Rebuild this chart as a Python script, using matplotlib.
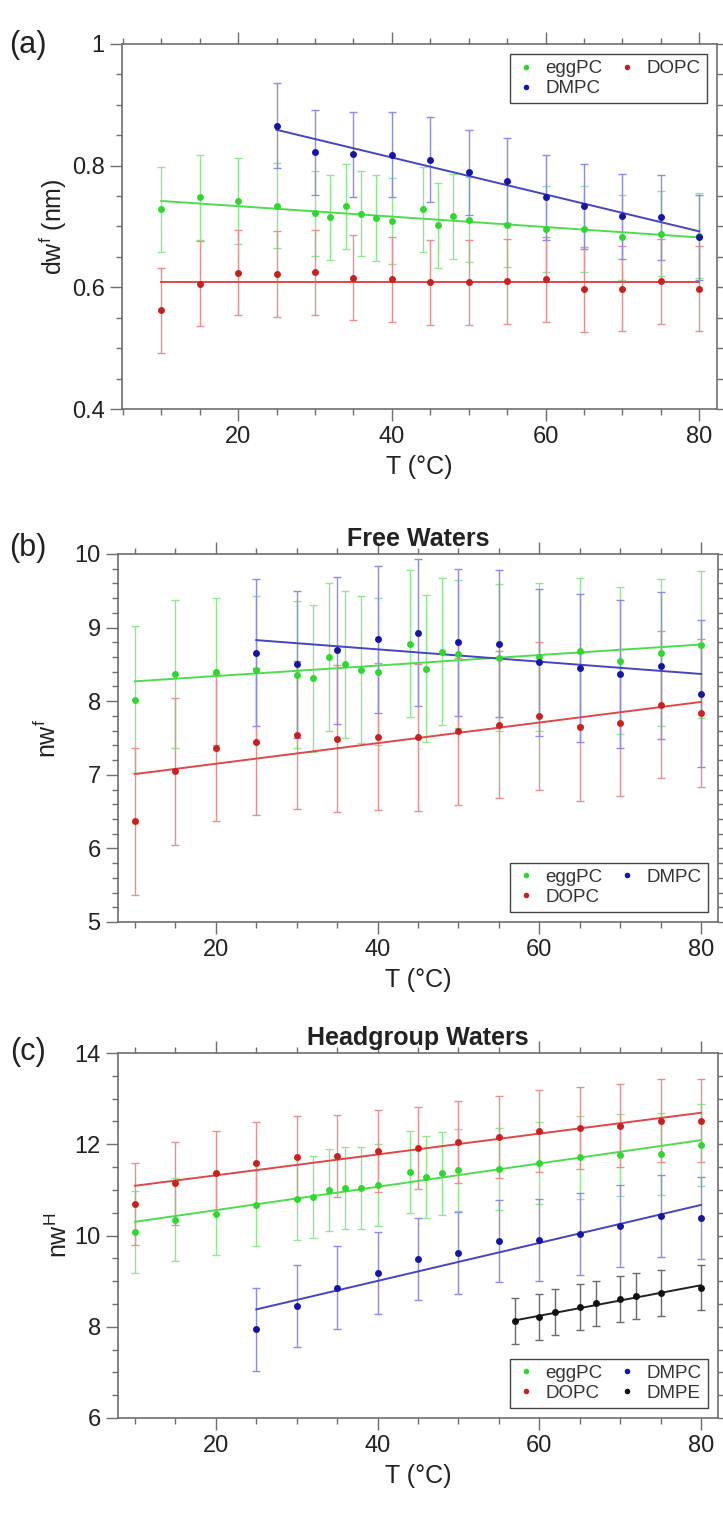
import matplotlib
matplotlib.use("Agg")
import matplotlib.pyplot as plt
from matplotlib.ticker import MultipleLocator, FuncFormatter

plt.rcParams['font.family'] = ['Liberation Sans', 'DejaVu Sans']
plt.rcParams['mathtext.fontset'] = 'custom'
plt.rcParams['mathtext.rm'] = 'Liberation Sans'

# ---------------- data ----------------
T_egg = [10, 15, 20, 25, 30, 32, 34, 36, 38, 40, 44, 46, 48, 50, 55, 60, 65, 70, 75, 80]
T_dopc = [10, 15, 20, 25, 30, 35, 40, 45, 50, 55, 60, 65, 70, 75, 80]
T_dmpc = [25, 30, 35, 40, 45, 50, 55, 60, 65, 70, 75, 80]
T_dmpe = [57, 60, 62, 65, 67, 70, 72, 75, 80]

# (a) dw^f (nm)
a_egg = [0.728, 0.748, 0.742, 0.734, 0.722, 0.715, 0.733, 0.721, 0.714, 0.709,
         0.728, 0.702, 0.717, 0.711, 0.703, 0.696, 0.696, 0.682, 0.688, 0.685]
a_dopc = [0.562, 0.606, 0.624, 0.622, 0.625, 0.616, 0.613, 0.608, 0.608, 0.610,
          0.613, 0.597, 0.598, 0.610, 0.598]
a_dmpc = [0.866, 0.822, 0.819, 0.818, 0.810, 0.789, 0.775, 0.748, 0.733, 0.717, 0.715, 0.682]
a_err = {'eggPC': 0.07, 'DOPC': 0.07, 'DMPC': 0.07}
a_fit = {'eggPC': ([10, 80], [0.742, 0.682]),
         'DOPC': ([10, 80], [0.609, 0.609]),
         'DMPC': ([25, 80], [0.859, 0.692])}

# (b) nw^f
b_egg = [8.02, 8.37, 8.40, 8.43, 8.36, 8.31, 8.60, 8.50, 8.43, 8.40,
         8.78, 8.44, 8.67, 8.64, 8.59, 8.60, 8.68, 8.55, 8.66, 8.77]
b_dopc = [6.37, 7.05, 7.37, 7.45, 7.54, 7.49, 7.52, 7.51, 7.59, 7.68,
          7.80, 7.65, 7.71, 7.95, 7.84]
b_dmpc = [8.66, 8.50, 8.69, 8.84, 8.93, 8.80, 8.78, 8.53, 8.45, 8.37, 8.48, 8.10]
b_err = {'eggPC': 1.0, 'DOPC': 1.0, 'DMPC': 1.0}
b_fit = {'eggPC': ([10, 80], [8.27, 8.77]),
         'DOPC': ([10, 80], [7.01, 7.99]),
         'DMPC': ([25, 80], [8.83, 8.37])}

# (c) nw^H
c_egg = [10.07, 10.35, 10.47, 10.66, 10.80, 10.84, 10.99, 11.05, 11.04, 11.11,
         11.40, 11.28, 11.36, 11.43, 11.46, 11.59, 11.71, 11.76, 11.78, 11.99]
c_dopc = [10.69, 11.14, 11.38, 11.59, 11.71, 11.75, 11.86, 11.91, 12.04, 12.16,
          12.29, 12.36, 12.41, 12.52, 12.52]
c_dmpc = [7.94, 8.46, 8.86, 9.17, 9.48, 9.62, 9.88, 9.91, 10.04, 10.20, 10.43, 10.38]
c_dmpe = [8.12, 8.22, 8.33, 8.43, 8.51, 8.61, 8.67, 8.74, 8.86]
c_err = {'eggPC': 0.9, 'DOPC': 0.9, 'DMPC': 0.9, 'DMPE': 0.5}
c_fit = {'eggPC': ([10, 80], [10.30, 12.09]),
         'DOPC': ([10, 80], [11.09, 12.69]),
         'DMPC': ([25, 80], [8.38, 10.67]),
         'DMPE': ([57, 80], [8.14, 8.91])}

# ---------------- style ----------------
mcol = {'eggPC': '#2fd82f', 'DOPC': '#cc1f1f', 'DMPC': '#1515a8', 'DMPE': '#111111'}
ecol = {'eggPC': '#8fe88f', 'DOPC': '#e89090', 'DMPC': '#8c8ce6', 'DMPE': '#6a6a6a'}
lcol = {'eggPC': '#4fdc4f', 'DOPC': '#e04848', 'DMPC': '#4545c0', 'DMPE': '#222222'}
spine_col = '#6e6e6e'
text_col = '#222222'

W, H = 723, 1515
fig = plt.figure(figsize=(W / 100, H / 100), dpi=100)


def make_ax(l, r, t, b):
    return fig.add_axes([l / W, 1 - b / H, (r - l) / W, (b - t) / H])


def style_ax(ax, xlim, ylim, ymaj, ymin):
    ax.set_xlim(*xlim)
    ax.set_ylim(*ylim)
    ax.xaxis.set_major_locator(MultipleLocator(20))
    ax.xaxis.set_minor_locator(MultipleLocator(5))
    ax.yaxis.set_major_locator(MultipleLocator(ymaj))
    ax.yaxis.set_minor_locator(MultipleLocator(ymin))
    ax.yaxis.set_major_formatter(FuncFormatter(lambda v, p: '%g' % round(v, 6)))
    ax.tick_params(which='both', direction='out', top=True, right=True,
                   color=spine_col, width=1.0, labelsize=17, pad=4,
                   labelcolor=text_col)
    ax.tick_params(which='major', length=8.5)
    ax.tick_params(which='minor', length=4.5)
    ax.tick_params(labeltop=False, labelright=False)
    for s in ax.spines.values():
        s.set_color(spine_col)
        s.set_linewidth(1.2)
    ax.set_xlabel('T (°C)', fontsize=18, labelpad=5, color=text_col)


def draw(ax, name, T, y, err, fit):
    ax.errorbar(T, y, yerr=err[name], fmt='none', ecolor=ecol[name],
                elinewidth=1.0, capsize=3, capthick=1.0, zorder=2)
    ax.plot(fit[name][0], fit[name][1], '-', color=lcol[name], lw=1.4, zorder=3)
    h, = ax.plot(T, y, 'o', color=mcol[name], ms=5, mec='none', zorder=4, label=name)
    return h


def legend(ax, handles, loc):
    lg = ax.legend(handles=handles, loc=loc, ncol=2, fontsize=13.5, frameon=True,
                   fancybox=False, edgecolor='#444444', framealpha=1,
                   handlelength=1.0, handletextpad=0.55, columnspacing=0.8,
                   labelspacing=0.15, borderpad=0.32, borderaxespad=0.55,
                   markerscale=0.8)
    lg.get_frame().set_linewidth(1.0)
    for t in lg.get_texts():
        t.set_color('#333333')
    return lg


# ---------------- (a) ----------------
axa = make_ax(122, 717, 44, 409)
style_ax(axa, (4.9, 82.3), (0.4, 1.0), 0.2, 0.05)
h1 = draw(axa, 'eggPC', T_egg, a_egg, a_err, a_fit)
h2 = draw(axa, 'DOPC', T_dopc, a_dopc, a_err, a_fit)
h3 = draw(axa, 'DMPC', T_dmpc, a_dmpc, a_err, a_fit)
axa.set_ylabel(r'dw$^{\mathregular{f}}$ (nm)', fontsize=18, labelpad=2, color=text_col)
legend(axa, [h1, h3, h2], 'upper right')
fig.text(28 / W, 1 - 45 / H, '(a)', fontsize=22, ha='center', va='center', color=text_col)

# ---------------- (b) ----------------
axb = make_ax(118, 718, 554, 922)
style_ax(axb, (7.9, 82.1), (5, 10), 1, 0.2)
h1 = draw(axb, 'eggPC', T_egg, b_egg, b_err, b_fit)
h2 = draw(axb, 'DOPC', T_dopc, b_dopc, b_err, b_fit)
h3 = draw(axb, 'DMPC', T_dmpc, b_dmpc, b_err, b_fit)
axb.set_ylabel(r'nw$^{\mathregular{f}}$', fontsize=18, labelpad=10, color=text_col)
axb.set_title('Free Waters', fontsize=18, fontweight='bold', pad=6, color=text_col)
legend(axb, [h1, h2, h3], 'lower right')
fig.text(28 / W, 1 - 548 / H, '(b)', fontsize=22, ha='center', va='center', color=text_col)

# ---------------- (c) ----------------
axc = make_ax(118, 718, 1053, 1418)
style_ax(axc, (7.9, 82.1), (6, 14), 2, 0.5)
h1 = draw(axc, 'eggPC', T_egg, c_egg, c_err, c_fit)
h2 = draw(axc, 'DOPC', T_dopc, c_dopc, c_err, c_fit)
h3 = draw(axc, 'DMPC', T_dmpc, c_dmpc, c_err, c_fit)
h4 = draw(axc, 'DMPE', T_dmpe, c_dmpe, c_err, c_fit)
axc.set_ylabel(r'nw$^{\mathregular{H}}$', fontsize=18, labelpad=2, color=text_col)
axc.set_title('Headgroup Waters', fontsize=18, fontweight='bold', pad=6, color=text_col)
legend(axc, [h1, h2, h3, h4], 'lower right')
fig.text(28 / W, 1 - 1052 / H, '(c)', fontsize=22, ha='center', va='center', color=text_col)

fig.savefig('out.png', dpi=100)
